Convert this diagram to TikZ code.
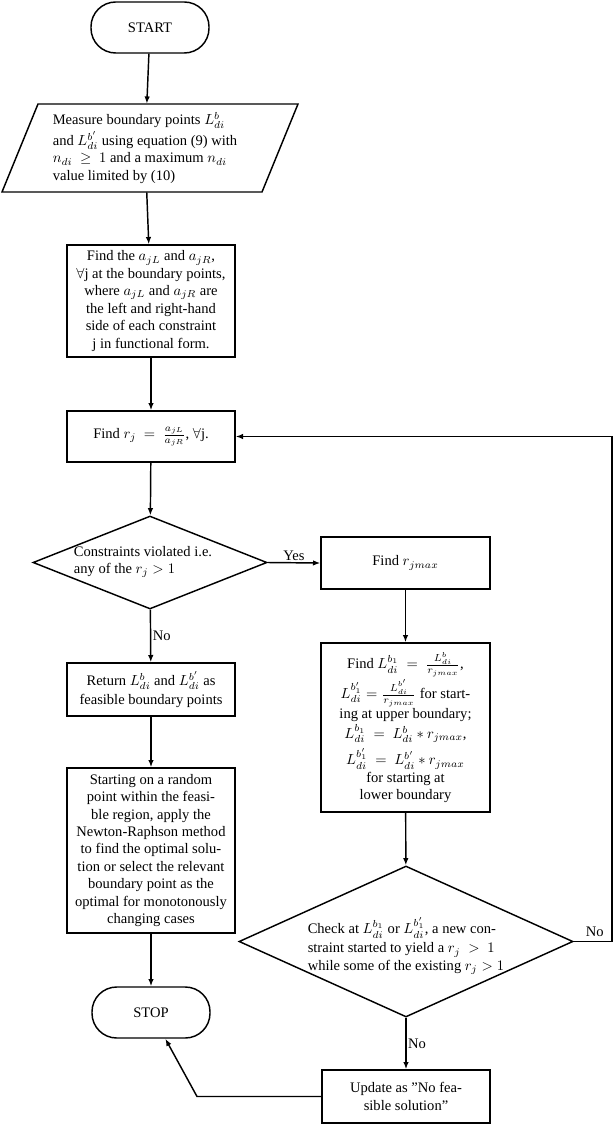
\documentclass[tikz,border=0pt]{standalone}
\usepackage{fontspec}
\setmainfont{Liberation Serif}
\usetikzlibrary{shapes.geometric,arrows.meta}
\tikzset{
  box/.style={draw,line width=1pt,rectangle,align=center,inner sep=1pt,minimum width=168*0.6875pt},
  term/.style={draw,line width=1pt,rectangle,rounded corners=17pt,minimum width=118*0.6875pt,minimum height=51*0.6875pt},
  dia/.style={draw,line width=1pt,diamond,inner sep=0pt},
  arr/.style={line width=1pt,-{Latex[length=5pt,width=3.8pt]}},
  lbl/.style={inner sep=1pt}
}
\begin{document}
\begin{tikzpicture}[x=0.6875pt,y=-0.6875pt]
\useasboundingbox (0,0) rectangle (615,1124);
% terminals
\node[term] (start) at (150,27.5) {START};
% parallelogram
\draw[line width=1pt] (38,104) -- (298,104) -- (262,192) -- (2,192) -- cycle;
\node[align=left,inner sep=0pt,minimum height=88*0.6875pt] (meas) at (145,148)
  {Measure boundary points $L^b_{di}$\\[1pt]
   and $L^{b'}_{di}$ using equation (9) with\\
   $n_{di}\ \geq\ 1$ and a maximum $n_{di}$\\
   value limited by (10)};
\node[box,minimum height=112*0.6875pt] (ajl) at (151,301)
  {Find the $a_{jL}$ and $a_{jR}$,\\
   $\forall$j at the boundary points,\\
   where $a_{jL}$ and $a_{jR}$ are\\
   the left and right-hand\\
   side of each constraint\\
   j in functional form.};
\node[box,minimum height=51*0.6875pt] (rj) at (151,436.5)
  {Find $r_j\ =\ \frac{a_{jL}}{a_{jR}}$, $\forall$j.};
\node[dia,minimum width=234*0.6875pt,minimum height=93*0.6875pt] (d1) at (150,562.5) {};
\node[align=left,inner sep=0pt] (d1t) at (143,562) {Constraints violated i.e.\\ any of the $r_j > 1$};
\node[box,minimum height=52*0.6875pt,minimum width=169*0.6875pt] (rmax) at (405.5,563) {Find $r_{jmax}$};
\node[box,minimum height=169*0.6875pt,minimum width=169*0.6875pt] (form) at (405.5,727.5)
  {Find $L^{b_1}_{di}\ =\ \frac{L^b_{di}}{r_{jmax}}$,\\[1pt]
   $L^{b'_1}_{di} = \frac{L^{b'}_{di}}{r_{jmax}}$ for start-\\
   ing at upper boundary;\\[2pt]
   $L^{b_1}_{di}\ =\ L^b_{di} * r_{jmax}$,\\[3pt]
   $L^{b'_1}_{di}\ =\ L^{b'}_{di} * r_{jmax}$\\
   for starting at\\
   lower boundary};
\node[box,minimum height=53*0.6875pt] (ret) at (151,689.5)
  {Return $L^b_{di}$ and $L^{b'}_{di}$ as\\[1pt] feasible boundary points};
\node[box,minimum height=165*0.6875pt] (newt) at (151,850.5)
  {Starting on a random\\
   point within the feasi-\\
   ble region, apply the\\
   Newton-Raphson method\\
   to find the optimal solu-\\
   tion or select the relevant\\
   boundary point as the\\
   optimal for monotonously\\
   changing cases};
\node[term] (stop) at (151,1012.5) {STOP};
\node[dia,minimum width=334*0.6875pt,minimum height=151*0.6875pt] (d2) at (406,941.5) {};
\node[align=left,inner sep=0pt] (d2t) at (406,946)
  {Check at $L^{b_1}_{di}$ or $L^{b'_1}_{di}$, a new con-\\[1pt]
   straint started to yield a $r_j\ >\ 1$\\
   while some of the existing $r_j > 1$};
\node[box,minimum height=53*0.6875pt] (upd) at (406,1096.5)
  {Update as ''No fea-\\ sible solution''};
% coordinates
\coordinate (fbR) at (612,941.5);
\coordinate (fbT) at (612,436.5);
\coordinate (bend) at (197,1096.5);
% connectors
\draw[arr] (start) -- (meas);
\draw[arr] (meas) -- (ajl);
\draw[arr] (ajl) -- (rj);
\draw[arr] (rj) -- (d1);
\draw[arr] (d1.east) -- node[lbl,above,pos=0.5] {Yes} (rmax.west);
\draw[arr] (d1) -- node[lbl,right,pos=0.5] {No} (ret);
\draw[arr] (ret) -- (newt);
\draw[arr] (newt) -- (stop);
\draw[arr] (rmax) -- (form);
\draw[arr] (form) -- (d2);
\draw[arr] (d2) -- node[lbl,right,pos=0.5] {No} (upd);
\draw[line width=1pt] (d2.east) -- node[lbl,above,pos=0.55,yshift=2pt] {No} (fbR);
\draw[arr] (fbR) -- (fbT) -- (rj.east);
\draw[arr] (upd.west) -- (bend) -- (stop);
\end{tikzpicture}
\end{document}
